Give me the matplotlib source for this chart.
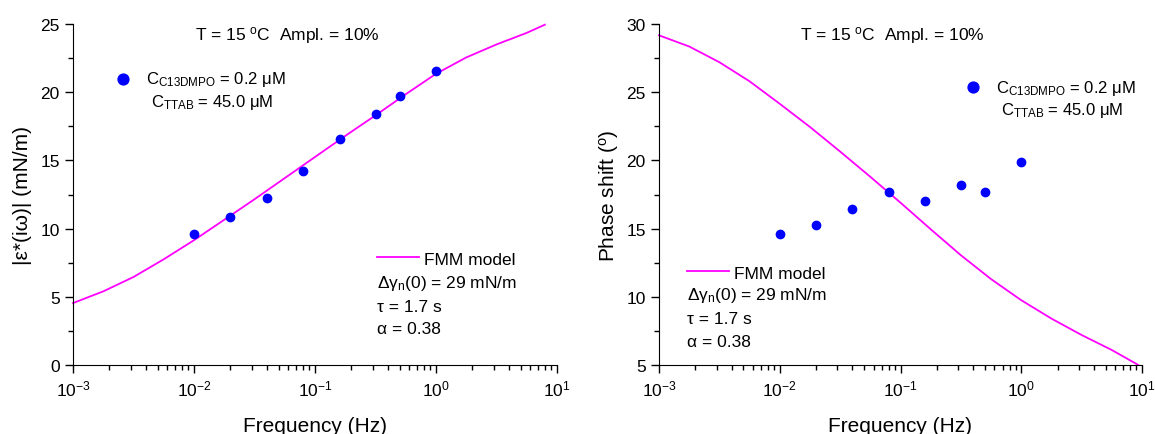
import matplotlib
matplotlib.use("Agg")
import matplotlib.pyplot as plt
import numpy as np
from matplotlib.ticker import LogLocator, MultipleLocator, NullFormatter

# fonts: arial-like text and math
plt.rcParams['font.family'] = ['Liberation Sans', 'DejaVu Sans']
plt.rcParams['mathtext.fontset'] = 'custom'
plt.rcParams['mathtext.rm'] = 'Liberation Sans'
plt.rcParams['mathtext.it'] = 'Liberation Sans:italic'
plt.rcParams['mathtext.bf'] = 'Liberation Sans:bold'

# measured data
freq = [0.01, 0.02, 0.04, 0.08, 0.16, 0.32, 0.5, 1.0]
modulus = [9.63, 10.83, 12.24, 14.22, 16.59, 18.37, 19.73, 21.59]
phase = [14.57, 15.25, 16.45, 17.69, 16.99, 18.23, 17.69, 19.89]

# FMM model curves
model_f_mod = [1e-3, 1.78e-3, 3.16e-3, 5.62e-3, 1e-2, 1.78e-2, 3.16e-2, 5.62e-2,
               0.1, 0.178, 0.316, 0.562, 1.0, 1.78, 3.16, 5.62, 7.94]
model_mod = [4.54, 5.40, 6.45, 7.75, 9.15, 10.65, 12.15, 13.70,
             15.25, 16.80, 18.30, 19.85, 21.35, 22.55, 23.50, 24.35, 24.95]

model_f_ph = [1e-3, 1.78e-3, 3.16e-3, 5.62e-3, 1e-2, 1.78e-2, 3.16e-2, 5.62e-2,
              0.1, 0.178, 0.316, 0.562, 1.0, 1.78, 3.16, 5.62, 9.33]
model_ph = [29.17, 28.35, 27.20, 25.80, 24.15, 22.45, 20.65, 18.80,
            16.90, 14.95, 13.05, 11.30, 9.75, 8.40, 7.20, 6.10, 5.0]

title_txt = r'T = 15 $^{\mathrm{o}}$C  Ampl. = 10%'
leg1 = r'C$_{\mathrm{C13DMPO}}$ = 0.2 μM'
leg2 = r'C$_{\mathrm{TTAB}}$ = 45.0 μM'
fit_lines = [r'Δγ$_{\mathrm{n}}$(0) = 29 mN/m', 'τ = 1.7 s', 'α = 0.38']

blue = '#0000ff'
magenta = '#ff00ff'
tick_fs = 12.5
text_fs = 12.5
label_fs = 15

fig = plt.figure(figsize=(11.55, 4.35), dpi=100)
W, H = 1155, 435
ax1 = fig.add_axes([73 / W, 1 - 366 / H, 484 / W, 341 / H])
ax2 = fig.add_axes([659 / W, 1 - 366 / H, 483 / W, 341 / H])


def style(ax, ymin, ymax):
    ax.set_xscale('log')
    ax.set_xlim(1e-3, 10)
    ax.set_ylim(ymin, ymax)
    for s in ['top', 'right']:
        ax.spines[s].set_visible(False)
    ax.xaxis.set_major_locator(LogLocator(base=10, numticks=10))
    ax.xaxis.set_minor_locator(LogLocator(base=10, subs=np.arange(2, 10), numticks=10))
    ax.xaxis.set_minor_formatter(NullFormatter())
    ax.yaxis.set_major_locator(MultipleLocator(5))
    ax.yaxis.set_minor_locator(MultipleLocator(2.5))
    ax.tick_params(which='major', direction='out', length=6, width=1, labelsize=tick_fs)
    ax.tick_params(which='minor', direction='out', length=3.5, width=1)
    ax.set_xlabel('Frequency (Hz)', fontsize=label_fs, labelpad=13)


# left: modulus
style(ax1, 0, 25)
ax1.plot(model_f_mod, model_mod, color=magenta, lw=1.3, label='FMM model', clip_on=False)
ax1.scatter(freq, modulus, s=36, color=blue, zorder=3, label=leg1)
ax1.set_ylabel(r'|ε*(iω)| (mN/m)', fontsize=label_fs, labelpad=6)
ax1.text(0.442, 0.97, title_txt, transform=ax1.transAxes, ha='center', va='center', fontsize=text_fs)

h, l = ax1.get_legend_handles_labels()
lg = ax1.legend([h[1]], [l[1]], loc='center left', bbox_to_anchor=(0.086, 0.839),
                frameon=False, fontsize=12, handlelength=1, handletextpad=0.87,
                borderpad=0, borderaxespad=0, markerscale=1.3)
ax1.add_artist(lg)
ax1.text(0.161, 0.774, leg2, transform=ax1.transAxes, va='center', fontsize=12)
ax1.legend([h[0]], [l[0]], loc='center left', bbox_to_anchor=(0.628, 0.311),
           frameon=False, fontsize=text_fs, handlelength=2.4, handletextpad=0.3,
           borderpad=0, borderaxespad=0)
for txt, yy in zip(fit_lines, [0.242, 0.173, 0.107]):
    ax1.text(0.628, yy, txt, transform=ax1.transAxes, va='center', fontsize=text_fs)

# right: phase
style(ax2, 5, 30)
ax2.plot(model_f_ph, model_ph, color=magenta, lw=1.3, label='FMM model', clip_on=False)
ax2.scatter(freq, phase, s=36, color=blue, zorder=3, label=leg1)
ax2.set_ylabel(r'Phase shift ($^{\mathrm{o}}$)', fontsize=label_fs, labelpad=4)
ax2.text(0.482, 0.968, title_txt, transform=ax2.transAxes, ha='center', va='center', fontsize=text_fs)

h, l = ax2.get_legend_handles_labels()
lg = ax2.legend([h[1]], [l[1]], loc='center left', bbox_to_anchor=(0.633, 0.815),
                frameon=False, fontsize=12, handlelength=1, handletextpad=0.87,
                borderpad=0, borderaxespad=0, markerscale=1.3)
ax2.add_artist(lg)
ax2.text(0.709, 0.748, leg2, transform=ax2.transAxes, va='center', fontsize=12)
ax2.legend([h[0]], [l[0]], loc='center left', bbox_to_anchor=(0.058, 0.27),
           frameon=False, fontsize=text_fs, handlelength=2.4, handletextpad=0.3,
           borderpad=0, borderaxespad=0)
for txt, yy in zip(fit_lines, [0.206, 0.135, 0.070]):
    ax2.text(0.057, yy, txt, transform=ax2.transAxes, va='center', fontsize=text_fs)

fig.savefig('out.png', dpi=100)
